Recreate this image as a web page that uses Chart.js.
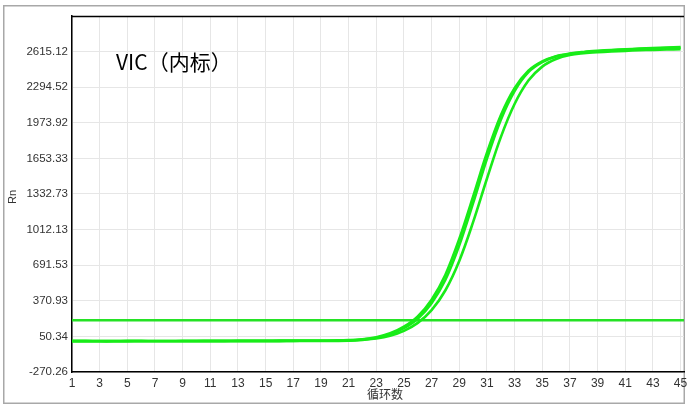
<!DOCTYPE html>
<html>
<head>
<meta charset="utf-8">
<script src="https://cdn.jsdelivr.net/npm/chart.js@4/dist/chart.umd.min.js"></script>
<style>
html,body{margin:0;padding:0;background:#fff;}
#wrap{position:relative;width:694px;height:410px;}
canvas{display:block;}
</style>
</head>
<body>
<div id="wrap"><canvas id="c" width="694" height="410"></canvas></div>
<script>
const cycles = [1,2,3,4,5,6,7,8,9,10,11,12,13,14,15,16,17,18,19,20,21,22,23,24,25,26,27,28,29,30,31,32,33,34,35,36,37,38,39,40,41,42,43,44,45];
const curveA = [10,10,9,9,10,10,9,9,10,10,10,10,11,11,11,12,12,13,13,14,17,25,43,78,138,231,381,606,927,1310,1702,2039,2285,2443,2527,2574,2598,2612,2622,2630,2636,2642,2647,2651,2655];
const curveB = [8,8,8,8,8,9,9,9,9,9,9,9,10,10,10,10,10,11,11,12,15,22,38,70,125,210,350,560,870,1250,1650,2000,2260,2430,2520,2570,2595,2608,2618,2626,2632,2638,2643,2647,2650];
const curveC = [6,6,6,6,7,7,7,7,7,7,8,8,8,8,8,8,9,9,9,10,12,19,31,56,100,172,287,466,730,1079,1470,1843,2143,2354,2480,2548,2584,2600,2610,2617,2622,2627,2631,2634,2637];
const threshold = 196;
const xTickLabels = [1,3,5,7,9,11,13,15,17,19,21,23,25,27,29,31,33,35,37,39,41,43,45];
const yTickLabels = [-270.26,50.34,370.93,691.53,1012.13,1332.73,1653.33,1973.92,2294.52,2615.12,2935.72];
const xMin = 1, xMax = 45.25;
const titleText = 'VIC（内标）';
const yTitle = 'Rn';
const xTitle = '循环数';

const green = 'rgb(24,236,24)';
function series(vals){ return cycles.map((c,i)=>({x:c,y:vals[i]})); }

const decor = {
  id:'decor',
  beforeDraw(chart){
    const ctx = chart.ctx;
    ctx.save();
    ctx.fillStyle='#fff';
    ctx.fillRect(0,0,chart.width,chart.height);
    ctx.strokeStyle='#a8a8a8';
    ctx.lineWidth=1.5;
    ctx.strokeRect(3.75,5.75,680.5,397.5);
    ctx.restore();
  },
  afterDraw(chart){
    const ctx = chart.ctx, a = chart.chartArea;
    ctx.save();
    ctx.strokeStyle='#000';
    ctx.lineWidth=1.5;
    ctx.beginPath();
    ctx.moveTo(a.left, a.top+0.5);
    ctx.lineTo(a.right, a.top+0.5);
    ctx.stroke();
    ctx.fillStyle='#000';
    ctx.font='21px "Noto Sans CJK SC", sans-serif';
    ctx.textBaseline='middle';
    ctx.textAlign='left';
    ctx.fillText(titleText, 116, 62);
    ctx.fillStyle='#333';
    ctx.font='12px "Noto Sans CJK SC", sans-serif';
    ctx.textAlign='center';
    ctx.fillText(xTitle, 385, 394);
    ctx.translate(13, 197);
    ctx.rotate(-Math.PI/2);
    ctx.font='11px "Liberation Sans", Arial, sans-serif';
    ctx.fillText(yTitle, 0, 0);
    ctx.restore();
  }
};

const lineOpts = {borderColor:green, borderWidth:2.6, pointRadius:0, tension:0.35, fill:false};

new Chart(document.getElementById('c'), {
  type:'line',
  data:{
    datasets:[
      Object.assign({label:'A', data:series(curveA)}, lineOpts),
      Object.assign({label:'B', data:series(curveB)}, lineOpts),
      Object.assign({label:'C', data:series(curveC)}, lineOpts),
      {label:'Threshold', data:[{x:xMin,y:threshold},{x:xMax,y:threshold}], borderColor:'rgb(36,226,36)', borderWidth:2.4, pointRadius:0, tension:0}
    ]
  },
  plugins:[decor],
  options:{
    responsive:false,
    animation:false,
    layout:{padding:{left:0, top:16, right:10, bottom:0}},
    plugins:{legend:{display:false}, tooltip:{enabled:false}, title:{display:false}},
    scales:{
      x:{
        type:'linear', min:xMin, max:xMax,
        afterBuildTicks(s){ s.ticks = xTickLabels.map(v=>({value:v})); },
        afterFit(s){ s.height = 38; },
        grid:{color:'#e6e6e6', lineWidth:1, drawTicks:false},
        border:{color:'#000', width:1.5},
        ticks:{padding:4, color:'#333', font:{family:'"Liberation Sans", Arial, sans-serif', size:12}, maxRotation:0, autoSkip:false,
          callback:(v)=>String(v)}
      },
      y:{
        type:'linear', min:yTickLabels[0], max:yTickLabels[yTickLabels.length-1],
        afterBuildTicks(s){ s.ticks = yTickLabels.map(v=>({value:v})); },
        afterFit(s){ s.width = 72; },
        grid:{color:'#e6e6e6', lineWidth:1, drawTicks:false},
        border:{color:'#000', width:1.5},
        ticks:{padding:4, color:'#333', font:{family:'"Liberation Sans", Arial, sans-serif', size:11.5}, autoSkip:false,
          callback:(v)=> v===yTickLabels[yTickLabels.length-1] ? '' : v.toFixed(2)}
      }
    }
  }
});
</script>
</body>
</html>
